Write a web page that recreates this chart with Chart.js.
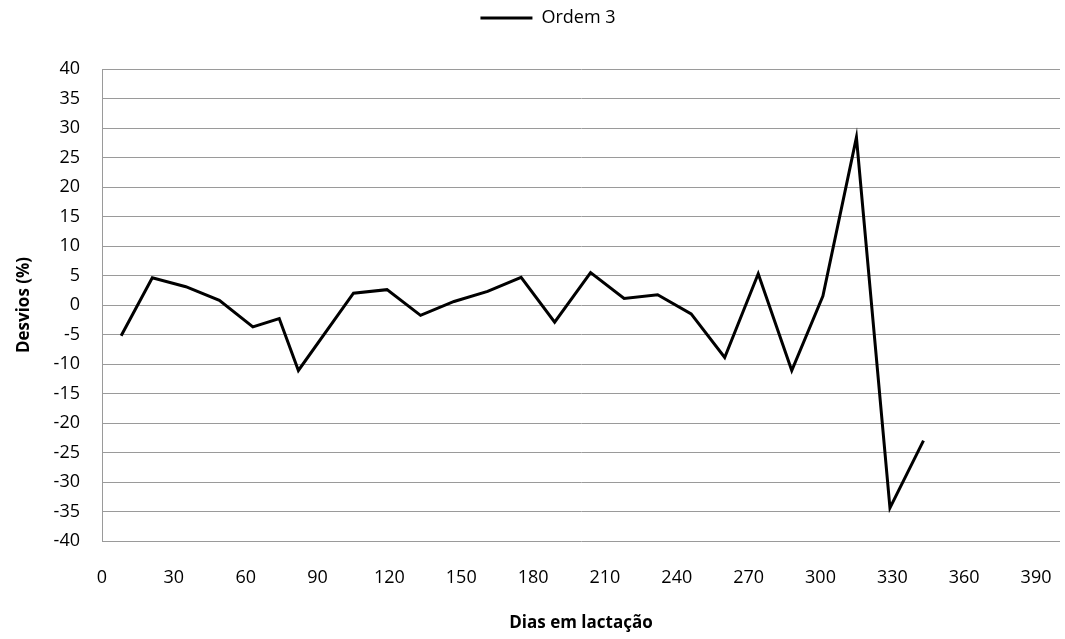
<!DOCTYPE html>
<html>
<head>
<meta charset="utf-8">
<script src="https://cdn.jsdelivr.net/npm/chart.js@4.4.1/dist/chart.umd.min.js"></script>
<style>
  html, body { margin: 0; padding: 0; background: #ffffff; }
  #wrap { width: 1065px; height: 639px; }
</style>
</head>
<body>
<div id="wrap"><canvas id="c" width="1065" height="639"></canvas></div>
<script>
// ---- data ----
const seriesName = "Ordem 3";
const days   = [8, 21, 35, 49, 63, 74, 82, 105, 119, 133, 147, 161, 175, 189, 204, 218, 232, 246, 260, 274, 288, 301, 315, 329, 343];
const desvio = [-5.2, 4.6, 3.1, 0.8, -3.7, -2.3, -11.1, 2.0, 2.6, -1.75, 0.6, 2.3, 4.7, -2.9, 5.5, 1.1, 1.75, -1.5, -8.9, 5.3, -11.1, 1.5, 28.4, -34.4, -23.0];
const xTicks = [0, 30, 60, 90, 120, 150, 180, 210, 240, 270, 300, 330, 360, 390];
const yTicks = [-40, -35, -30, -25, -20, -15, -10, -5, 0, 5, 10, 15, 20, 25, 30, 35, 40];
const xTitle = "Dias em lactação";
const yTitle = "Desvios (%)";

const points = days.map((d, i) => ({ x: d, y: desvio[i] }));

const layoutPlugin = {
  id: 'layoutTweaks',
  beforeLayout(chart) {
    const lg = chart.legend;
    if (lg && !lg._patched) {
      const orig = lg.fit;
      lg.fit = function () { orig.call(this); this.height = 69; };
      lg._patched = true;
    }
  },
  afterLayout(chart) {
    const lg = chart.legend;
    if (lg) { lg.left += 18; lg.right += 18; }
  }
};

const gridColor = '#9a9a9a';

new Chart(document.getElementById('c'), {
  type: 'line',
  data: {
    datasets: [{
      label: seriesName,
      data: points,
      borderColor: '#000000',
      backgroundColor: '#000000',
      borderWidth: 3,
      pointRadius: 0,
      pointHoverRadius: 0,
      tension: 0,
      borderJoinStyle: 'miter',
      fill: false
    }]
  },
  options: {
    responsive: false,
    devicePixelRatio: 1,
    animation: false,
    layout: { padding: { left: 0, right: 5, top: 0, bottom: 0 } },
    plugins: {
      legend: {
        position: 'top',
        align: 'center',
        labels: {
          usePointStyle: true,
          pointStyle: 'line',
          pointStyleWidth: 52,
          padding: 9,
          color: '#000000',
          font: { family: 'Open Sans', size: 18 }
        }
      },
      tooltip: { enabled: false }
    },
    scales: {
      x: {
        type: 'linear',
        min: 0,
        max: 400,
        afterBuildTicks(scale) { scale.ticks = xTicks.map(v => ({ value: v })); },
        afterFit(scale) { scale.height = 98; scale.paddingLeft = 0; scale.paddingRight = 0; },
        grid: { display: false, drawTicks: false },
        border: { display: false },
        ticks: {
          padding: 26,
          color: '#000000',
          maxRotation: 0,
          autoSkip: false,
          font: { family: 'Open Sans', size: 18 }
        },
        title: {
          display: true,
          text: xTitle,
          color: '#000000',
          font: { family: 'Open Sans', size: 17, weight: 'bold' },
          padding: { top: 4, bottom: 6 }
        }
      },
      y: {
        type: 'linear',
        min: -40,
        max: 40,
        afterBuildTicks(scale) { scale.ticks = yTicks.map(v => ({ value: v })); },
        afterFit(scale) { scale.width = 102; },
        grid: { color: gridColor, lineWidth: 1, drawTicks: false },
        border: { display: true, color: gridColor, width: 1 },
        ticks: {
          padding: 22,
          color: '#000000',
          autoSkip: false,
          font: { family: 'Open Sans', size: 18 }
        },
        title: {
          display: true,
          text: yTitle,
          color: '#000000',
          font: { family: 'Open Sans', size: 17, weight: 'bold' },
          padding: { top: 14, bottom: 4 }
        }
      }
    }
  },
  plugins: [layoutPlugin]
});
</script>
</body>
</html>
